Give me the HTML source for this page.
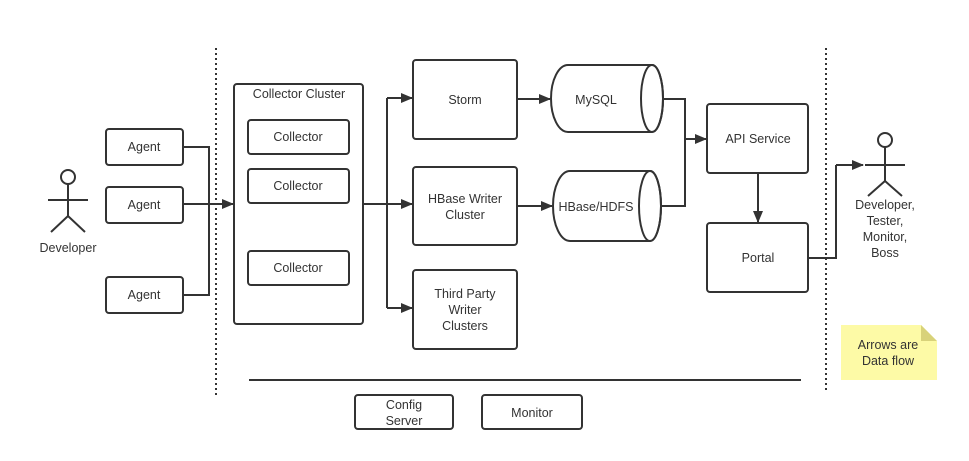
<!DOCTYPE html>
<html><head><meta charset="utf-8"><style>
html,body{margin:0;padding:0;background:#fff;}
svg{display:block;}
text{font-family:"Liberation Sans",sans-serif;font-size:12.5px;fill:#333;text-anchor:middle;}
</style></head><body>
<svg width="969" height="461" viewBox="0 0 969 461" xmlns="http://www.w3.org/2000/svg">
<defs><marker id="a" markerWidth="12" markerHeight="10" refX="11" refY="5" orient="auto" markerUnits="userSpaceOnUse"><path d="M0,0 L12,5 L0,10 z" fill="#333"/></marker></defs>
<g stroke="#333" stroke-width="2" fill="none">
<line x1="216" y1="48" x2="216" y2="395" stroke-dasharray="2,3"/>
<line x1="826" y1="48" x2="826" y2="392" stroke-dasharray="2,3"/>
<circle cx="68" cy="177" r="7"/>
<line x1="68" y1="184" x2="68" y2="216"/><line x1="48" y1="200" x2="88" y2="200"/>
<polyline points="51,232 68,216 85,232"/>
<rect x="106" y="129" width="77" height="36" rx="3"/>
<rect x="106" y="187" width="77" height="36" rx="3"/>
<rect x="106" y="277" width="77" height="36" rx="3"/>
<polyline points="183,147 209,147 209,295 183,295"/>
<line x1="183" y1="204" x2="233" y2="204" marker-end="url(#a)"/>
<rect x="234" y="84" width="129" height="240" rx="3"/>
<rect x="248" y="120" width="101" height="34" rx="3"/>
<rect x="248" y="169" width="101" height="34" rx="3"/>
<rect x="248" y="251" width="101" height="34" rx="3"/>
<line x1="363" y1="204" x2="387" y2="204"/>
<line x1="387" y1="98" x2="387" y2="308"/>
<line x1="387" y1="98" x2="412" y2="98" marker-end="url(#a)"/>
<line x1="387" y1="204" x2="412" y2="204" marker-end="url(#a)"/>
<line x1="387" y1="308" x2="412" y2="308" marker-end="url(#a)"/>
<rect x="413" y="60" width="104" height="79" rx="3"/>
<rect x="413" y="167" width="104" height="78" rx="3"/>
<rect x="413" y="270" width="104" height="79" rx="3"/>
<line x1="517" y1="99" x2="550" y2="99" marker-end="url(#a)"/>
<line x1="517" y1="206" x2="552" y2="206" marker-end="url(#a)"/>
<path d="M568,65 L652,65 A11,33.5 0 0 1 652,132 L568,132 A17,33.5 0 0 1 568,65 Z"/>
<ellipse cx="652" cy="98.5" rx="11" ry="33.5"/>
<path d="M570,171 L650,171 A11,35 0 0 1 650,241 L570,241 A17,35 0 0 1 570,171 Z"/>
<ellipse cx="650" cy="206" rx="11" ry="35"/>
<polyline points="663,99 685,99 685,206 661,206"/>
<line x1="685" y1="139" x2="706" y2="139" marker-end="url(#a)"/>
<rect x="707" y="104" width="101" height="69" rx="3"/>
<line x1="758" y1="173" x2="758" y2="222" marker-end="url(#a)"/>
<rect x="707" y="223" width="101" height="69" rx="3"/>
<polyline points="808,258 836,258 836,165"/>
<line x1="836" y1="165" x2="863" y2="165" marker-end="url(#a)"/>
<circle cx="885" cy="140" r="7"/>
<line x1="885" y1="147" x2="885" y2="181"/><line x1="865" y1="165" x2="905" y2="165"/>
<polyline points="868,196 885,181 902,196"/>
<line x1="249" y1="380" x2="801" y2="380"/>
<rect x="355" y="395" width="98" height="34" rx="3"/>
<rect x="482" y="395" width="100" height="34" rx="3"/>
</g>
<path d="M841,325 L921,325 L937,341 L937,380 L841,380 Z" fill="#fdfaa6"/>
<path d="M921,325 L937,341 L921,341 Z" fill="#d8d27a"/>
<text x="68" y="252">Developer</text>
<text x="144" y="151">Agent</text>
<text x="144" y="209">Agent</text>
<text x="144" y="299">Agent</text>
<text x="299" y="98">Collector Cluster</text>
<text x="298" y="141">Collector</text>
<text x="298" y="190">Collector</text>
<text x="298" y="272">Collector</text>
<text x="465" y="104">Storm</text>
<text x="465" y="203">HBase Writer</text>
<text x="465" y="219">Cluster</text>
<text x="465" y="298">Third Party</text>
<text x="465" y="314">Writer</text>
<text x="465" y="330">Clusters</text>
<text x="596" y="104">MySQL</text>
<text x="596" y="211">HBase/HDFS</text>
<text x="758" y="143">API Service</text>
<text x="758" y="262">Portal</text>
<text x="885" y="209">Developer,</text>
<text x="885" y="225">Tester,</text>
<text x="885" y="241">Monitor,</text>
<text x="885" y="257">Boss</text>
<text x="888" y="349">Arrows are</text>
<text x="888" y="365">Data flow</text>
<text x="404" y="409">Config</text>
<text x="404" y="425">Server</text>
<text x="532" y="417">Monitor</text>
</svg>
</body></html>
